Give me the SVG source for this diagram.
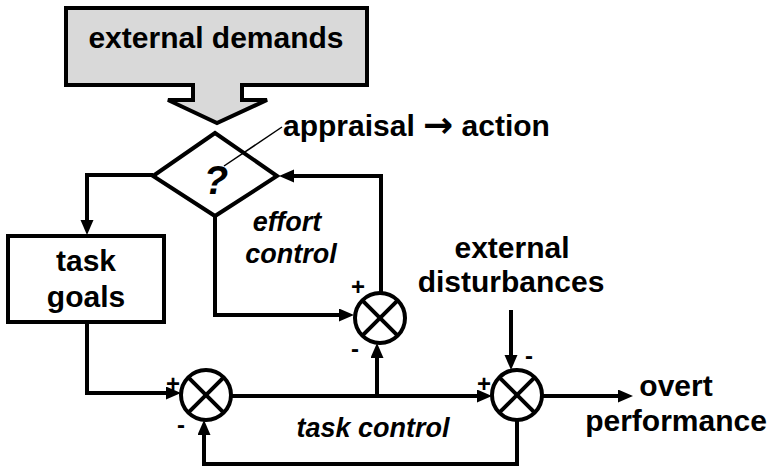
<svg xmlns="http://www.w3.org/2000/svg" width="768" height="468" viewBox="0 0 768 468">
  <style>
    .ln { fill: none; stroke: #000; stroke-width: 4; }
    .arr { fill: none; stroke: #000; stroke-width: 4; marker-end: url(#head); }
    .box { fill: #fff; stroke: #000; stroke-width: 4; }
    .sum { fill: #fff; stroke: #000; stroke-width: 4; }
    .x { stroke: #000; stroke-width: 4; }
    .t { font-family: "Liberation Sans", Arial, sans-serif; font-weight: bold; font-size: 30px; fill: #000; }
    .it { font-family: "Liberation Sans", Arial, sans-serif; font-weight: bold; font-style: italic; font-size: 27px; fill: #000; }
    .sg { font-family: "Liberation Sans", Arial, sans-serif; font-weight: bold; font-size: 24px; fill: #000; }
  </style>
  <defs>
    <marker id="head" markerUnits="userSpaceOnUse" markerWidth="17" markerHeight="14" refX="4" refY="6.5" orient="auto">
      <path d="M0,0 L15,6.5 L0,13 z" fill="#000"/>
    </marker>
  </defs>

  <rect width="768" height="468" fill="#fff"/>

  <!-- block arrow carrying the external demands -->
  <g id="external-demands">
    <polygon points="66,8 367,8 367,85 242,85 242,100 267,100 217,123 168,100 193,100 193,85 66,85" fill="#d9d9d9" stroke="#000" stroke-width="4" stroke-linejoin="miter"/>
    <text class="t" x="216" y="48" text-anchor="middle">external demands</text>
  </g>

  <!-- decision diamond -->
  <g id="appraisal">
    <polygon points="215,133 277,176 215,216 153,176" class="box"/>
    <text x="216" y="194" font-family="Liberation Sans, Arial, sans-serif" font-style="italic" font-weight="bold" font-size="40" text-anchor="middle">?</text>
    <line x1="224" y1="166" x2="282" y2="127" stroke="#000" stroke-width="1.5"/>
    <text class="t" x="283" y="136">appraisal <tspan font-family="DejaVu Sans, sans-serif" font-size="36" dy="1">→</tspan><tspan dy="-1"> action</tspan></text>
  </g>

  <!-- task goals box -->
  <g id="task-goals">
    <rect x="8" y="236" width="156" height="86" class="box"/>
    <text class="t" x="86" y="271" text-anchor="middle">task</text>
    <text class="t" x="86" y="307" text-anchor="middle">goals</text>
  </g>

  <!-- summing junctions -->
  <g id="effort-sum">
    <circle cx="380" cy="318" r="25" class="sum"/>
    <line class="x" x1="362.3" y1="300.3" x2="397.7" y2="335.7"/>
    <line class="x" x1="397.7" y1="300.3" x2="362.3" y2="335.7"/>
    <text class="sg" x="358" y="295" text-anchor="middle">+</text>
    <text class="sg" x="355" y="357" text-anchor="middle">-</text>
  </g>
  <g id="task-sum">
    <circle cx="206" cy="395" r="25" class="sum"/>
    <line class="x" x1="188.3" y1="377.3" x2="223.7" y2="412.7"/>
    <line class="x" x1="223.7" y1="377.3" x2="188.3" y2="412.7"/>
    <text class="sg" x="173" y="392" text-anchor="middle">+</text>
    <text class="sg" x="181" y="433" text-anchor="middle">-</text>
  </g>
  <g id="output-sum">
    <circle cx="517" cy="395" r="25" class="sum"/>
    <line class="x" x1="499.3" y1="377.3" x2="534.7" y2="412.7"/>
    <line class="x" x1="534.7" y1="377.3" x2="499.3" y2="412.7"/>
    <text class="sg" x="484" y="392" text-anchor="middle">+</text>
    <text class="sg" x="529" y="364" text-anchor="middle">-</text>
  </g>

  <!-- free labels -->
  <g id="labels">
    <text class="it" x="287" y="231" text-anchor="middle">effort</text>
    <text class="it" x="291" y="263" text-anchor="middle">control</text>
    <text class="t" x="512" y="258" text-anchor="middle">external</text>
    <text class="t" x="511" y="292" text-anchor="middle">disturbances</text>
    <text class="it" x="373" y="437" text-anchor="middle">task control</text>
    <text class="t" x="676" y="396" text-anchor="middle">overt</text>
    <text class="t" x="676" y="431" text-anchor="middle">performance</text>
  </g>

  <!-- connectors -->
  <g id="connectors">
    <polyline class="arr" points="153,175 87,175 87,224"/>
    <polyline class="arr" points="87,322 87,393 170,393"/>
    <polyline class="arr" points="215,216 215,315 343,315"/>
    <polyline class="arr" points="381,293 381,176 290,176"/>
    <line class="arr" x1="231" y1="396" x2="481" y2="396"/>
    <line class="arr" x1="377" y1="396" x2="377" y2="354"/>
    <line class="arr" x1="511" y1="310" x2="511" y2="359"/>
    <line class="arr" x1="542" y1="396" x2="622" y2="396"/>
    <polyline class="arr" points="517,420 517,464 204,464 204,431"/>
  </g>
</svg>
